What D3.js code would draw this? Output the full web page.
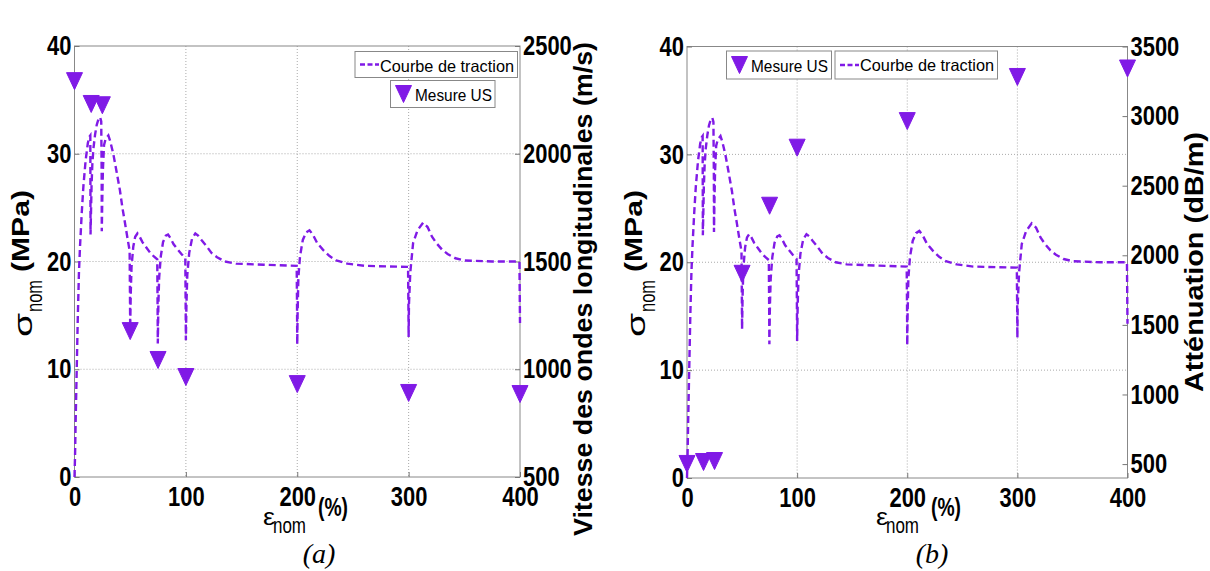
<!DOCTYPE html>
<html><head><meta charset="utf-8">
<script src="https://cdn.jsdelivr.net/npm/d3@7"></script>
<style>
body{margin:0;background:#fff}
</style></head><body>
<svg id="fig" width="1210" height="571" font-family="'Liberation Sans', Arial, sans-serif"></svg>
<script>
// ---- data ----
const curveStrain=[0,0.5,1,2,3,4,5,6.5,8,10,12,13.5,14.2,14.3,14.4,14.8,15.3,16,17,18.5,20,21.5,23,24,24.4,24.5,24.9,25.5,26.5,28,30.4,32,34.8,37.5,40.8,43,45.3,47.5,49.5,49.8,50,50.5,51.2,52.8,54.5,56.5,58.5,61,64.5,68,71,74.3,74.6,74.8,75.3,76,77.5,79.5,82,84,86,89,92,96,99.5,99.8,100,100.5,101.3,103,105.5,108.5,111,114,118,123,128,135,145,170,199.5,199.8,200,200.3,201,202.5,205,208,211,214,218,223,229,235,245,260,299.5,299.8,300,300.3,301.5,304,308,313,317,321,325,330,335,342,350,375,399.5,400];
const curveStress=[0,2,5,10,15,19,21.5,24.5,27,29.4,31,31.6,31.7,27,22.5,24.5,27,29,30.5,31.8,32.7,33.2,33.4,33,28,22.8,25.5,28.5,30.8,31.4,31.7,31.2,30,28.5,26.6,25,23.6,22.2,21,17,13.8,17,19.5,21.4,22.3,22.6,22.3,21.8,21.3,20.8,20.5,20.2,16,12.4,16,18.5,20.5,21.8,22.4,22.5,22.2,21.6,21.2,20.7,20.3,16,12.7,16,18.8,20.8,22.1,22.6,22.4,22,21.5,20.8,20.4,20,19.8,19.7,19.6,16,12.3,15,18.5,20.5,22,22.7,22.9,22.5,21.7,21.1,20.5,20.1,19.8,19.6,19.5,16,13,16,19,21.7,22.9,23.6,23.2,22.3,21.7,21.1,20.7,20.3,20.1,20,20,14.3];
const usStrain=[0,15,25,50,75,100,200,300,400];
const velocity=[2337,2231,2225,1177,1043,964,931,890,885];
const attenuation=[501,515,522,1867,2356,2773,2964,3281,3342];
const strainTicks=[0,100,200,300,400];
const stressTicks=[0,10,20,30,40];
const velocityTicks=[500,1000,1500,2000,2500];
const attenuationTicks=[500,1000,1500,2000,2500,3000,3500];

const COLOR="#801ae6";
const svg=d3.select("#fig");
svg.append("rect").attr("width",1210).attr("height",571).attr("fill","#fff");
const tri="M-8,-8.5L8,-8.5L0,8.5Z";
const curvePts=curveStrain.map((s,i)=>[s,curveStress[i]]);

function styleTicks(g){
  g.attr("font-size",null).attr("font-family",null);
  g.select(".domain").remove();
  g.selectAll(".tick line").attr("stroke","#777");
  g.selectAll(".tick text").attr("font-size",27).attr("font-weight","bold").attr("fill","#000")
   .attr("textLength",d=>String(d).length*12.2).attr("lengthAdjust","spacingAndGlyphs");
}
function txt(x,y,s,size,weight,len,rot,opts={}){
  const t=svg.append("text").attr("transform",`translate(${x},${y})`+(rot?" rotate(-90)":""))
   .attr("font-size",size).attr("font-weight",weight).attr("fill","#000").text(s);
  if(len) t.attr("textLength",len).attr("lengthAdjust","spacingAndGlyphs");
  if(opts.family) t.attr("font-family",opts.family);
  if(opts.italic) t.attr("font-style","italic");
  if(opts.anchor) t.attr("text-anchor",opts.anchor);
  return t;
}
const fmt=d=>String(d);

function panel(c){
  const x=d3.scaleLinear([0,400],[c.x0,c.x1]);
  const y=d3.scaleLinear([0,40],[c.yb,c.yt]);
  const yr=d3.scaleLinear(c.rDomain,[c.yb,c.yt]);
  const g=svg.append("g");
  // grid
  g.selectAll(".gx").data(strainTicks.filter(d=>d>0&&d<400)).join("line")
   .attr("x1",d=>x(d)).attr("x2",d=>x(d)).attr("y1",c.yt).attr("y2",c.yb)
   .attr("stroke","#aaa").attr("stroke-dasharray","1,2");
  g.selectAll(".gy").data(stressTicks.filter(d=>d>0&&d<40)).join("line")
   .attr("x1",c.x0).attr("x2",c.x1).attr("y1",d=>y(d)).attr("y2",d=>y(d))
   .attr("stroke","#aaa").attr("stroke-dasharray","1,2");
  // box
  g.append("rect").attr("x",c.x0).attr("y",c.yt).attr("width",c.x1-c.x0).attr("height",c.yb-c.yt)
   .attr("fill","none").attr("stroke","#888").attr("stroke-width",1);
  // axes
  g.append("g").attr("transform",`translate(${c.x0},0)`)
   .call(d3.axisLeft(y).tickValues(stressTicks).tickFormat(fmt).tickSizeInner(-5).tickSizeOuter(0).tickPadding(3)).call(styleTicks);
  g.append("g").attr("transform",`translate(0,${c.yb})`)
   .call(d3.axisBottom(x).tickValues(strainTicks).tickFormat(fmt).tickSizeInner(-5).tickSizeOuter(0).tickPadding(10)).call(styleTicks);
  g.append("g").attr("transform",`translate(${c.x1},0)`)
   .call(d3.axisRight(yr).tickValues(c.rTicks).tickFormat(fmt).tickSizeInner(-5).tickSizeOuter(0).tickPadding(3)).call(styleTicks);
  const drawCurve=()=>g.append("path").datum(curvePts)
   .attr("d",d3.line().x(d=>x(d[0])).y(d=>y(d[1])))
   .attr("fill","none").attr("stroke",COLOR).attr("stroke-width",2.4).attr("stroke-dasharray","7,4");
  const drawMarks=()=>g.selectAll(".m"+c.id).data(usStrain.map((s,i)=>[s,c.rValues[i]])).join("path")
   .attr("transform",d=>`translate(${x(d[0])},${yr(d[1])})`).attr("d",tri)
   .attr("fill",COLOR).attr("stroke",COLOR).attr("stroke-width",1);
  if(c.marksOnTop){drawCurve();drawMarks();}else{drawMarks();drawCurve();}
  // legends
  c.legends.forEach(L=>{
    g.append("rect").attr("x",L.x).attr("y",L.y).attr("width",L.w).attr("height",L.h)
     .attr("fill","#fff").attr("stroke","#888").attr("stroke-width",1);
    if(L.kind==="line"){
      g.append("line").attr("x1",L.x+5).attr("x2",L.x+24).attr("y1",L.y+L.h/2).attr("y2",L.y+L.h/2)
       .attr("stroke",COLOR).attr("stroke-width",2.4).attr("stroke-dasharray","5,2.5");
      txt(L.x+25,L.y+20,"Courbe de traction",16.5,"normal",134,false);
    }else{
      g.append("path").attr("transform",`translate(${L.x+13},${L.y+L.h/2})`).attr("d",tri).attr("fill",COLOR).attr("stroke",COLOR);
      txt(L.x+24.5,L.y+20.5,"Mesure US",16.5,"normal",77,false);
    }
  });
  // axis labels
  const o=c.off;
  txt(32+o,337,"σ",26,"normal",24,true);
  txt(42+o,312,"nom",22,"normal",32,true);
  txt(29+o,272,"(MPa)",24,"bold",82,true);
  txt(263+o,525,"ε",24,"normal",12,false);
  txt(273+o,533,"nom",22,"normal",33,false);
  txt(318+o,516,"(%)",26,"bold",30,false);
  txt(319+o,563,c.caption,28,"normal",null,false,{family:"'Liberation Serif','Times New Roman',serif",italic:true,anchor:"middle"});
  txt(c.rLabelX,c.rLabelY,c.rLabel,25,"bold",c.rLabelLen,true);
}

panel({id:"a",x0:74.5,x1:520,yt:46,yb:477,rDomain:[500,2500],rTicks:velocityTicks,rValues:velocity,
  marksOnTop:true,off:0,caption:"(a)",
  rLabel:"Vitesse des ondes longitudinales (m/s)",rLabelX:592,rLabelY:536,rLabelLen:494,
  legends:[{kind:"line",x:355,y:51.5,w:162.5,h:26},{kind:"mark",x:390.5,y:80.5,w:104.5,h:27}]});
panel({id:"b",x0:687,x1:1127.5,yt:46.5,yb:478,rDomain:[400,3500],rTicks:attenuationTicks,rValues:attenuation,
  marksOnTop:false,off:613,caption:"(b)",
  rLabel:"Atténuation (dB/m)",rLabelX:1203,rLabelY:392,rLabelLen:260,
  legends:[{kind:"mark",x:726.5,y:51,w:105,h:28},{kind:"line",x:835,y:51,w:162.5,h:28}]});
</script>
</body></html>
